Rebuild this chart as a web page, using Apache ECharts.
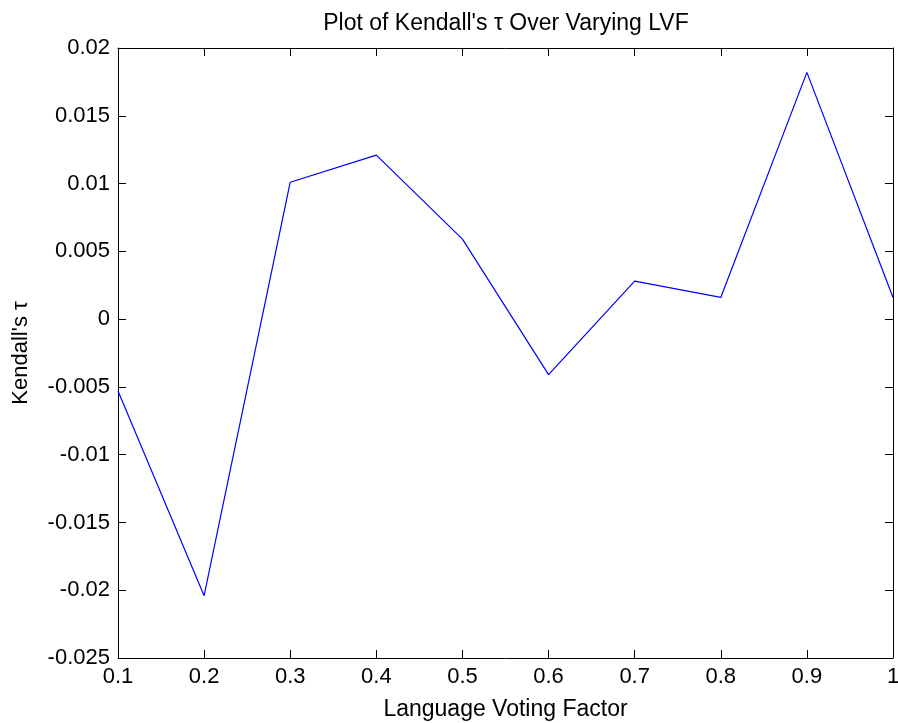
<!DOCTYPE html>
<html><head><meta charset="utf-8">
<script src="https://cdn.jsdelivr.net/npm/echarts@6/dist/echarts.min.js"></script>
<style>html,body{margin:0;padding:0;background:#fff}#c{width:898px;height:723px}</style>
</head><body><div id="c"></div>
<script>
const lvf = [0.1,0.2,0.3,0.4,0.5,0.6,0.7,0.8,0.9,1.0];
const tau = [-0.0053,-0.0204,0.0101,0.0121,0.0059,-0.0041,0.0028,0.0016,0.0182,0.0016];
const yTicks = [-0.025,-0.02,-0.015,-0.01,-0.005,0,0.005,0.01,0.015,0.02];
const xTicks = ['0.1','0.2','0.3','0.4','0.5','0.6','0.7','0.8','0.9','1'];
const titleText = "Plot of Kendall's \u03c4 Over Varying LVF";
const xName = 'Language Voting Factor';
const yName = "Kendall's \u03c4";

const chart = echarts.init(document.getElementById('c'));
const font = 'Liberation Sans, Arial, sans-serif';
const lineStyle = {color:'#000', width:1};
chart.setOption({
  animation:false,
  title:{text:titleText,left:501,top:7,textAlign:'center',textStyle:{fontFamily:font,fontSize:23,fontWeight:'normal',color:'#000'}},
  grid:{left:118,right:5,top:48,bottom:65,show:false,containLabel:false,outerBoundsMode:'none'},
  xAxis:[{
    type:'value',min:0.1,max:1.0,interval:0.1,
    name:xName,nameLocation:'middle',nameGap:40,
    nameTextStyle:{fontFamily:font,fontSize:23,color:'#000'},
    axisLine:{show:true,onZero:false,lineStyle:lineStyle},
    axisTick:{show:true,inside:true,length:8,lineStyle:lineStyle},
    axisLabel:{fontFamily:font,fontSize:22,color:'#000',margin:8,
      formatter:v=>{const i=Math.round(v*10)-1;return xTicks[i]!==undefined?xTicks[i]:'';}},
    splitLine:{show:false}
  },{
    type:'value',min:0.1,max:1.0,interval:0.1,position:'top',
    axisLine:{show:true,onZero:false,lineStyle:lineStyle},
    axisTick:{show:true,inside:true,length:8,lineStyle:lineStyle},
    axisLabel:{show:false},splitLine:{show:false}
  }],
  yAxis:[{
    type:'value',min:-0.025,max:0.02,interval:0.005,
    name:yName,nameLocation:'middle',nameGap:86,
    nameTextStyle:{fontFamily:font,fontSize:22,color:'#000'},
    axisLine:{show:true,onZero:false,lineStyle:lineStyle},
    axisTick:{show:true,inside:true,length:8,lineStyle:lineStyle},
    axisLabel:{fontFamily:font,fontSize:22,color:'#000',margin:8,
      formatter:v=>{const m=yTicks.find(t=>Math.abs(t-v)<1e-9);return m===undefined?'':String(m);}},
    splitLine:{show:false}
  },{
    type:'value',min:-0.025,max:0.02,interval:0.005,position:'right',
    axisLine:{show:true,onZero:false,lineStyle:lineStyle},
    axisTick:{show:true,inside:true,length:8,lineStyle:lineStyle},
    axisLabel:{show:false},splitLine:{show:false}
  }],
  series:[{
    type:'line',data:lvf.map((x,i)=>[x,tau[i]]),
    showSymbol:false,symbol:'none',
    lineStyle:{color:'#0000ff',width:1.2},
    clip:true
  }]
});
</script></body></html>
